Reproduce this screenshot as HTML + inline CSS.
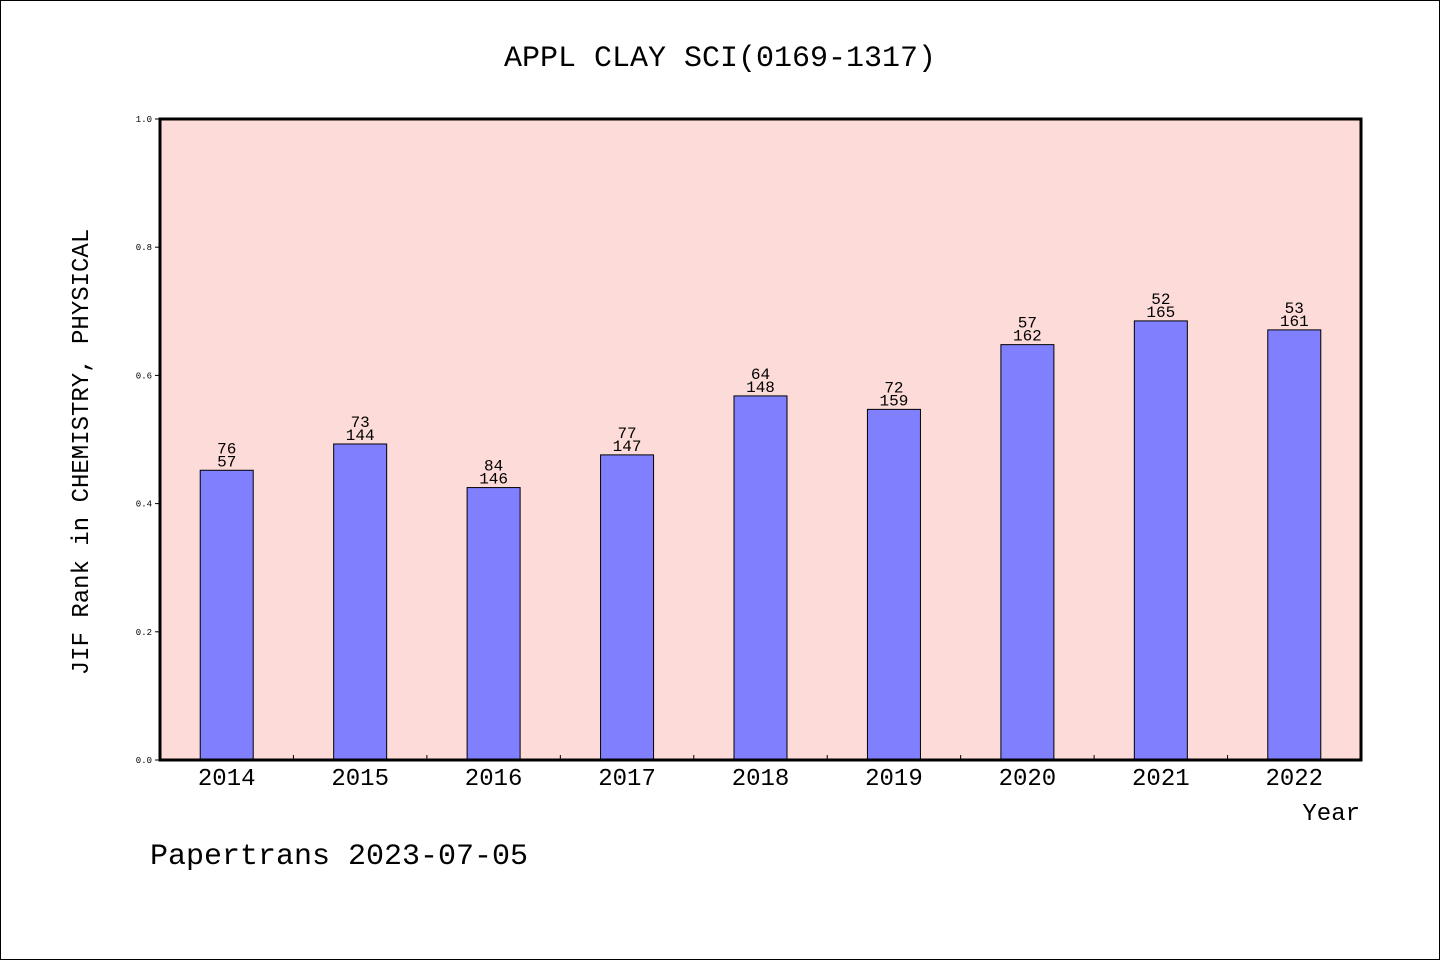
<!DOCTYPE html>
<html><head><meta charset="utf-8"><style>
html,body{margin:0;padding:0;background:#fff}
svg{display:block}
text{font-family:"Liberation Mono","WenQuanYi Zen Hei",monospace;fill:#000}
</style></head><body>
<svg id="chart" width="1440" height="960" viewBox="0 0 1440 960">
<rect x="0.5" y="0.5" width="1439" height="959" fill="#fff" stroke="#000"/>
<text x="720" y="66" text-anchor="middle" font-size="30">APPL CLAY SCI(0169-1317)</text>
<rect x="160" y="119" width="1201" height="641" fill="#fddbd8"/>
<g id="bars"></g>
<g id="yaxis"></g>
<g id="xaxis"></g>
<rect x="160" y="119" width="1201" height="641" fill="none" stroke="#000" stroke-width="3"/>
<text x="88" y="452" text-anchor="middle" font-size="24" transform="rotate(-90 88 452)">JIF Rank in CHEMISTRY, PHYSICAL</text>
<text x="1360" y="820" text-anchor="end" font-size="24">Year</text>
<text x="150" y="864" font-size="30">Papertrans 2023-07-05</text>
</svg>
<script>
const years=["2014","2015","2016","2017","2018","2019","2020","2021","2022"];
const values=[0.452,0.493,0.425,0.476,0.568,0.547,0.648,0.685,0.671];
const topLabels=["76","73","84","77","64","72","57","52","53"];
const bottomLabels=["57","144","146","147","148","159","162","165","161"];
const yTicks=[0,0.2,0.4,0.6,0.8,1.0];
const NS="http://www.w3.org/2000/svg";
const X0=160,X1=1361,Y0=760,Y1=119;
const band=(X1-X0)/years.length;
const xc=i=>X0+band*(i+0.5);
const y=v=>Y0-(Y0-Y1)*v;
function mk(tag,attrs,parent,txt){const e=document.createElementNS(NS,tag);for(const k in attrs)e.setAttribute(k,attrs[k]);if(txt!==undefined)e.textContent=txt;parent.appendChild(e);return e;}
const gb=document.getElementById('bars'),gy=document.getElementById('yaxis'),gx=document.getElementById('xaxis');
years.forEach((yr,i)=>{
  const bw=53,top=y(values[i]);
  const r=mk('rect',{x:xc(i)-bw/2,y:top,width:bw,height:Y0-top,fill:'#8080ff',stroke:'#000','stroke-width':1},gb);
  
  
  const t1=mk('text',{x:xc(i),y:top-17,'text-anchor':'middle','font-size':16},gb,topLabels[i]);
  
  
  const t2=mk('text',{x:xc(i),y:top-4,'text-anchor':'middle','font-size':16},gb,bottomLabels[i]);
  
  
  const xl=mk('text',{x:xc(i),y:785,'text-anchor':'middle','font-size':24},gx,yr);
  
  
  if(i>0){const tk=mk('line',{x1:X0+band*i,x2:X0+band*i,y1:Y0,y2:Y0-5,stroke:'#000'},gx);
  
  }
});
yTicks.forEach(v=>{
  const tk=mk('line',{x1:X0-5,x2:X0,y1:y(v),y2:y(v),stroke:'#000'},gy);
  
  
  const tl=mk('text',{x:X0-8,y:y(v)+3,'text-anchor':'end','font-size':9},gy,v.toFixed(1));
  
  
});
</script>
</body></html>
